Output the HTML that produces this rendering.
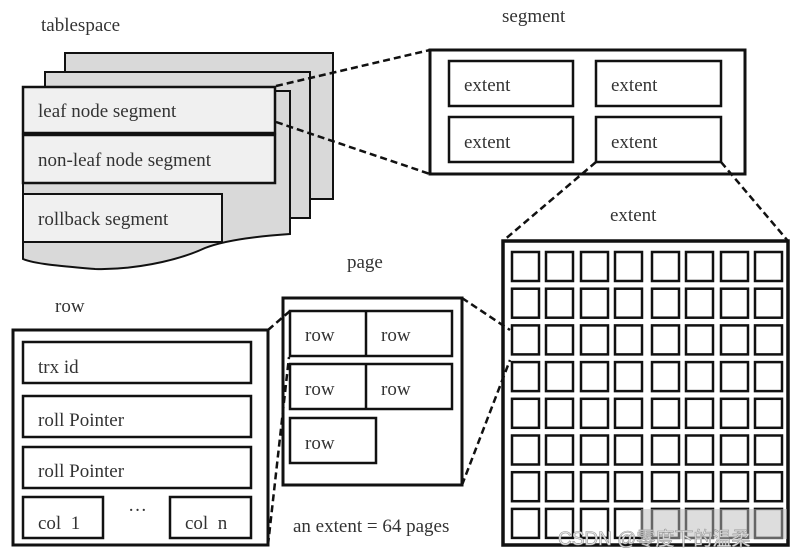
<!DOCTYPE html>
<html><head><meta charset="utf-8"><style>
html,body{margin:0;padding:0;background:#fff;}
svg{display:block;}
text{font-family:"Liberation Serif",serif;font-size:19px;fill:#333;}
</style></head><body>
<svg width="803" height="559" viewBox="0 0 803 559" xmlns="http://www.w3.org/2000/svg">
<rect width="803" height="559" fill="#fff"/>
<!-- tablespace -->
<text x="41" y="31">tablespace</text>
<rect x="65" y="53" width="268" height="146" fill="#d9d9d9" stroke="#111" stroke-width="2"/>
<rect x="45" y="72" width="265" height="146" fill="#d9d9d9" stroke="#111" stroke-width="2"/>
<path d="M23,91 L290,91 L290,234 C260,236 225,240 205,248 C175,262 130,270 95,269 C60,266 35,264 23,259 Z" fill="#d9d9d9" stroke="#111" stroke-width="2"/>
<rect x="23" y="87" width="252" height="46" fill="#f0f0f0" stroke="#111" stroke-width="2.5"/>
<rect x="23" y="135" width="252" height="48" fill="#f0f0f0" stroke="#111" stroke-width="2.5"/>
<rect x="23" y="194" width="199" height="48" fill="#f0f0f0" stroke="#111" stroke-width="2"/>
<text x="38" y="117">leaf node segment</text>
<text x="38" y="166">non-leaf node segment</text>
<text x="38" y="225">rollback segment</text>
<!-- segment -->
<text x="502" y="22">segment</text>
<rect x="430" y="50" width="315" height="124" fill="#fff" stroke="#111" stroke-width="3"/>
<g fill="#fff" stroke="#111" stroke-width="2.5">
<rect x="449" y="61" width="124" height="45"/>
<rect x="596" y="61" width="125" height="45"/>
<rect x="449" y="117" width="124" height="45"/>
<rect x="596" y="117" width="125" height="45"/>
</g>
<text x="464" y="91">extent</text><text x="611" y="91">extent</text>
<text x="464" y="148">extent</text><text x="611" y="148">extent</text>
<!-- extent grid -->
<text x="610" y="221">extent</text>
<rect x="503" y="241" width="285" height="304" fill="#fff" stroke="#111" stroke-width="3.5"/>
<g fill="#fff" stroke="#111" stroke-width="2.5">
<g transform="translate(0,0)">
<rect x="512" y="252" width="27" height="29"/><rect x="546" y="252" width="27" height="29"/><rect x="581" y="252" width="27" height="29"/><rect x="615" y="252" width="27" height="29"/><rect x="652" y="252" width="27" height="29"/><rect x="686" y="252" width="27" height="29"/><rect x="721" y="252" width="27" height="29"/><rect x="755" y="252" width="27" height="29"/>
</g>
<g transform="translate(0,36.7)">
<rect x="512" y="252" width="27" height="29"/><rect x="546" y="252" width="27" height="29"/><rect x="581" y="252" width="27" height="29"/><rect x="615" y="252" width="27" height="29"/><rect x="652" y="252" width="27" height="29"/><rect x="686" y="252" width="27" height="29"/><rect x="721" y="252" width="27" height="29"/><rect x="755" y="252" width="27" height="29"/>
</g>
<g transform="translate(0,73.4)">
<rect x="512" y="252" width="27" height="29"/><rect x="546" y="252" width="27" height="29"/><rect x="581" y="252" width="27" height="29"/><rect x="615" y="252" width="27" height="29"/><rect x="652" y="252" width="27" height="29"/><rect x="686" y="252" width="27" height="29"/><rect x="721" y="252" width="27" height="29"/><rect x="755" y="252" width="27" height="29"/>
</g>
<g transform="translate(0,110.1)">
<rect x="512" y="252" width="27" height="29"/><rect x="546" y="252" width="27" height="29"/><rect x="581" y="252" width="27" height="29"/><rect x="615" y="252" width="27" height="29"/><rect x="652" y="252" width="27" height="29"/><rect x="686" y="252" width="27" height="29"/><rect x="721" y="252" width="27" height="29"/><rect x="755" y="252" width="27" height="29"/>
</g>
<g transform="translate(0,146.8)">
<rect x="512" y="252" width="27" height="29"/><rect x="546" y="252" width="27" height="29"/><rect x="581" y="252" width="27" height="29"/><rect x="615" y="252" width="27" height="29"/><rect x="652" y="252" width="27" height="29"/><rect x="686" y="252" width="27" height="29"/><rect x="721" y="252" width="27" height="29"/><rect x="755" y="252" width="27" height="29"/>
</g>
<g transform="translate(0,183.5)">
<rect x="512" y="252" width="27" height="29"/><rect x="546" y="252" width="27" height="29"/><rect x="581" y="252" width="27" height="29"/><rect x="615" y="252" width="27" height="29"/><rect x="652" y="252" width="27" height="29"/><rect x="686" y="252" width="27" height="29"/><rect x="721" y="252" width="27" height="29"/><rect x="755" y="252" width="27" height="29"/>
</g>
<g transform="translate(0,220.2)">
<rect x="512" y="252" width="27" height="29"/><rect x="546" y="252" width="27" height="29"/><rect x="581" y="252" width="27" height="29"/><rect x="615" y="252" width="27" height="29"/><rect x="652" y="252" width="27" height="29"/><rect x="686" y="252" width="27" height="29"/><rect x="721" y="252" width="27" height="29"/><rect x="755" y="252" width="27" height="29"/>
</g>
<g transform="translate(0,256.9)">
<rect x="512" y="252" width="27" height="29"/><rect x="546" y="252" width="27" height="29"/><rect x="581" y="252" width="27" height="29"/><rect x="615" y="252" width="27" height="29"/><rect x="652" y="252" width="27" height="29"/><rect x="686" y="252" width="27" height="29"/><rect x="721" y="252" width="27" height="29"/><rect x="755" y="252" width="27" height="29"/>
</g>
</g>
<!-- page -->
<text x="347" y="268">page</text>
<rect x="283" y="298" width="179" height="187" fill="#fff" stroke="#111" stroke-width="3"/>
<g fill="#fff" stroke="#111" stroke-width="2.5">
<rect x="290" y="311" width="162" height="45"/>
<line x1="366" y1="311" x2="366" y2="356"/>
<rect x="290" y="364" width="162" height="45"/>
<line x1="366" y1="364" x2="366" y2="409"/>
<rect x="290" y="418" width="86" height="45"/>
</g>
<text x="305" y="341">row</text><text x="381" y="341">row</text>
<text x="305" y="395">row</text><text x="381" y="395">row</text>
<text x="305" y="449">row</text>
<text x="293" y="532">an extent = 64 pages</text>
<!-- row -->
<text x="55" y="312">row</text>
<rect x="13" y="330" width="255" height="215" fill="#fff" stroke="#111" stroke-width="3"/>
<g fill="#fff" stroke="#111" stroke-width="2.5">
<rect x="23" y="342" width="228" height="41"/>
<rect x="23" y="396" width="228" height="41"/>
<rect x="23" y="447" width="228" height="41"/>
<rect x="23" y="497" width="80" height="41"/>
<rect x="170" y="497" width="81" height="41"/>
</g>
<text x="38" y="373">trx id</text>
<text x="38" y="426">roll Pointer</text>
<text x="38" y="477">roll Pointer</text>
<text x="38" y="529">col&#160;&#160;1</text>
<text x="185" y="529">col&#160;&#160;n</text>
<text x="128" y="516">···</text>
<!-- connectors -->
<g stroke="#111" stroke-width="2.5" stroke-dasharray="7,4" fill="none">
<line x1="276" y1="86" x2="430" y2="50"/>
<line x1="276" y1="122" x2="430" y2="174"/>
<line x1="596" y1="162" x2="503" y2="241"/>
<line x1="721" y1="162" x2="788" y2="241"/>
<line x1="462" y1="298" x2="510" y2="330"/>
<line x1="462" y1="485" x2="510" y2="360"/>
<line x1="268" y1="330" x2="290" y2="311"/>
<line x1="268" y1="545" x2="289" y2="357"/>
</g>
<!-- watermark -->
<rect x="641" y="509" width="146" height="30" fill="#bbb" opacity="0.5"/>
<text x="558" y="545" style="font-family:'Liberation Sans','Noto Sans CJK SC',sans-serif;font-size:19px;fill:#e8e8e8;stroke:#999;stroke-width:0.6">CSDN @零度下的温柔</text>
</svg>
</body></html>
